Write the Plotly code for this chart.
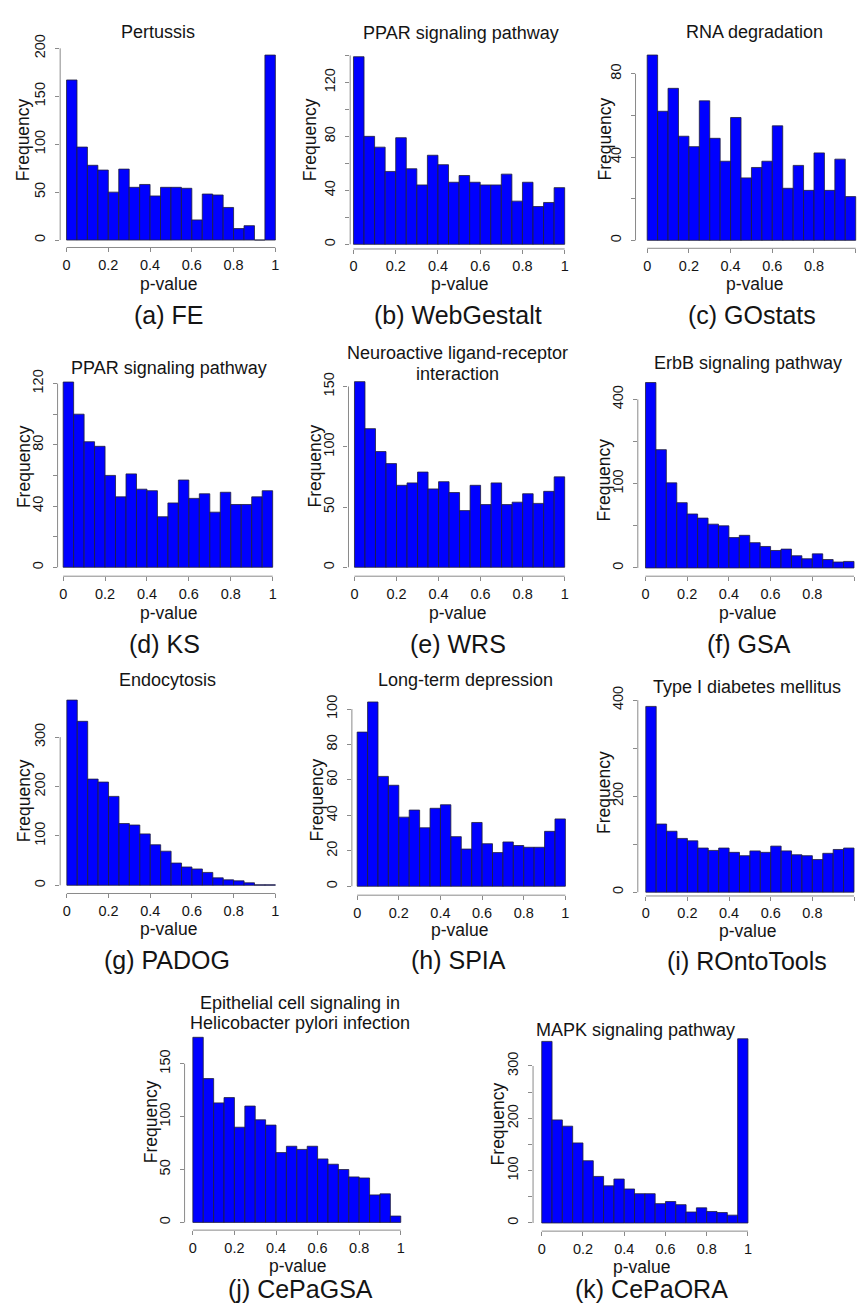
import numpy as np
import plotly.graph_objects as go

# ---------------- data (counts per p-value bin, 20 bins of width 0.05) ----------------
bin_edges = [round(0.05 * i, 2) for i in range(21)]

fe_counts = [167, 97, 78, 73, 50, 74, 55, 58, 46, 55, 55, 54, 21, 48, 47, 34, 12, 15, 0, 193]
webgestalt_counts = [139, 80, 72, 54, 79, 56, 44, 66, 59, 46, 51, 46, 44, 44, 52, 32, 46, 28, 31, 42]
gostats_counts = [89, 62, 73, 50, 45, 67, 49, 38, 59, 30, 35, 38, 55, 25, 36, 24, 42, 24, 39, 21]
ks_counts = [121, 100, 82, 79, 60, 46, 61, 51, 50, 33, 42, 57, 45, 48, 36, 49, 41, 41, 46, 50]
wrs_counts = [154, 115, 96, 86, 68, 70, 79, 65, 71, 62, 47, 68, 52, 70, 52, 54, 61, 53, 63, 75]
gsa_counts = [484, 197, 102, 60, 41, 35, 27, 25, 13, 15, 9, 6.5, 4.3, 5, 2.1, 1.2, 2.8, 1, 0.5, 0.6]
padog_counts = [375, 332, 215, 209, 180, 125, 122, 104, 82, 69, 45, 37, 33, 26, 15, 11, 9, 5, 1, 1]
spia_counts = [87, 104, 62, 57, 39, 43, 33, 44, 46, 28, 21, 36, 24, 19, 25, 23, 22, 22, 31, 38]
rontotools_counts = [387, 142, 127, 112, 107, 92, 87, 92, 83, 76, 86, 83, 96, 86, 78, 76, 68, 81, 89, 92]
cepagsa_counts = [175, 136, 113, 118, 90, 110, 97, 92, 66, 72, 69, 72, 60, 55, 50, 43, 42, 26, 27, 6]
cepaora_counts = [347, 197, 185, 153, 119, 89, 71, 84, 65, 56, 56, 37, 41, 35, 21, 29, 22, 20, 15, 352]

panel_titles = [
    ["Pertussis"], ["PPAR signaling pathway"], ["RNA degradation"],
    ["PPAR signaling pathway"], ["Neuroactive ligand-receptor", "interaction"], ["ErbB signaling pathway"],
    ["Endocytosis"], ["Long-term depression"], ["Type I diabetes mellitus"],
    ["Epithelial cell signaling in", "Helicobacter pylori infection"], ["MAPK signaling pathway"],
]
panel_labels = ["(a) FE", "(b) WebGestalt", "(c) GOstats", "(d) KS", "(e) WRS", "(f) GSA",
                "(g) PADOG", "(h) SPIA", "(i) ROntoTools", "(j) CePaGSA", "(k) CePaORA"]
panel_counts = [fe_counts, webgestalt_counts, gostats_counts, ks_counts, wrs_counts, gsa_counts,
                padog_counts, spia_counts, rontotools_counts, cepagsa_counts, cepaora_counts]

x_tick_vals = [0, 0.2, 0.4, 0.6, 0.8, 1]
x_tick_text = ["0", "0.2", "0.4", "0.6", "0.8", "1"]

# y ticks (values, labels); GSA panel uses a square-root axis
y_ticks = [
    ([0, 50, 100, 150, 200], ["0", "50", "100", "150", "200"]),
    ([0, 20, 40, 60, 80, 100, 120, 140], ["0", "", "40", "", "80", "", "120", ""]),
    ([0, 20, 40, 60, 80], ["0", "", "40", "", "80"]),
    ([0, 20, 40, 60, 80, 100, 120], ["0", "", "40", "", "80", "", "120"]),
    ([0, 50, 100, 150], ["0", "50", "100", "150"]),
    ([0, 25, 100, 225, 400], ["0", "", "100", "", "400"]),
    ([0, 100, 200, 300], ["0", "100", "200", "300"]),
    ([0, 20, 40, 60, 80, 100], ["0", "20", "40", "60", "80", "100"]),
    ([0, 100, 200, 300, 400], ["0", "", "200", "", "400"]),
    ([0, 50, 100, 150], ["0", "50", "100", "150"]),
    ([0, 50, 100, 150, 200, 250, 300], ["0", "", "100", "", "200", "", "300"]),
]
sqrt_axis = [False, False, False, False, False, True, False, False, False, False, False]

# ---------------- layout (pixel positions in the 858 x 1305 page) ----------------
W, H = 858, 1305
geom = [
    dict(x0=65.7, x1=275.0, xy=59.3, yb=231.0, ys=0.9667, yx=238.5),
    dict(x0=353.3, x1=565.0, xy=350.0, yb=235.3, ys=1.361, yx=240.0),
    dict(x0=647.7, x1=856.7, xy=636.0, yb=231.3, ys=2.1, yx=239.3),
    dict(x0=62.3, x1=272.3, xy=56.7, yb=561.0, ys=1.544, yx=570.0),
    dict(x0=354.3, x1=565.0, xy=348.3, yb=561.0, ys=1.2156, yx=570.0),
    dict(x0=646.0, x1=855.0, xy=638.3, yb=561.7, ys=8.5, yx=570.0),
    dict(x0=66.0, x1=275.0, xy=59.3, yb=881.7, ys=0.498, yx=890.0),
    dict(x0=357.0, x1=565.7, xy=351.7, yb=882.7, ys=1.787, yx=891.7),
    dict(x0=646.3, x1=855.0, xy=638.3, yb=888.7, ys=0.4842, yx=892.5),
    dict(x0=192.3, x1=400.7, xy=184.0, yb=1221.7, ys=1.0667, yx=1229.5),
    dict(x0=542.0, x1=748.7, xy=533.3, yb=1222.3, ys=0.5278, yx=1230.5),
]
title_pos = [(157, 21), (461, 22), (755, 21), (168, 360), (458, 345), (749, 355),
             (167, 675), (466, 675), (748, 682), (300, 1000), (636, 1028)]
freq_pos = [(21.5, 130), (310, 130), (605, 129), (23, 459), (315, 459), (604, 473),
            (23, 796), (317, 796), (605, 788), (150, 1120), (498, 1122)]
pval_pos = [(168, 275), (460, 275), (755, 275), (168, 607), (458, 607), (748, 607),
            (168, 926), (460, 927), (748, 928), (297, 1266), (642, 1267)]
label_pos = [(168, 307), (458, 307), (753, 307), (164, 638), (458, 638), (750, 638),
             (166, 957), (459, 957), (748, 958), (300, 1289), (652, 1289)]

FONT = "Liberation Sans, Arial, Helvetica, sans-serif"
TXT = "#141414"
AXC = "#8a8a8a"


def px(x):
    return x / W


def py(y):
    return 1 - y / H


fig = go.Figure()
shapes = []
annotations = []
centers = [(bin_edges[i] + bin_edges[i + 1]) / 2 for i in range(20)]

for i, (counts, g) in enumerate(zip(panel_counts, geom)):
    n = i + 1
    xa = "x" if n == 1 else f"x{n}"
    ya = "y" if n == 1 else f"y{n}"
    xkey = "xaxis" if n == 1 else f"xaxis{n}"
    ykey = "yaxis" if n == 1 else f"yaxis{n}"

    tv, tt = y_ticks[i]
    if sqrt_axis[i]:
        yvals = list(np.sqrt(counts))
        tvp = list(np.sqrt(tv))
    else:
        yvals = list(counts)
        tvp = list(tv)

    fig.add_trace(go.Bar(
        x=centers, y=yvals, width=0.05, xaxis=xa, yaxis=ya,
        marker=dict(color="#0000FF", line=dict(color="#20203a", width=0.8)),
        showlegend=False, hoverinfo="skip",
    ))

    xscale = g["x1"] - g["x0"]
    left_px = g["xy"]
    right_px = min(g["x1"] + (g["x0"] - g["xy"]), W)
    xr = [-(g["x0"] - left_px) / xscale, (right_px - g["x0"]) / xscale]

    vmax = max(max(yvals), tvp[-1])
    top_px = g["yb"] - vmax * g["ys"] - 3
    yr = [-(g["yx"] - g["yb"]) / g["ys"], (g["yb"] - top_px) / g["ys"]]

    fig.layout[xkey] = dict(
        domain=[px(left_px), px(right_px)], range=xr, anchor=ya,
        tickvals=x_tick_vals, ticktext=x_tick_text, ticks="outside", ticklen=4,
        tickcolor=AXC, tickwidth=1, showline=False, showgrid=False, zeroline=False,
        tickfont=dict(family=FONT, size=14.5, color=TXT), ticklabelstandoff=0,
        fixedrange=True,
    )
    fig.layout[ykey] = dict(
        domain=[py(g["yx"]), py(top_px)], range=yr, anchor=xa,
        tickvals=tvp, ticktext=tt, ticks="outside", ticklen=4,
        tickcolor=AXC, tickwidth=1, showline=False, showgrid=False, zeroline=False,
        tickangle=-90, tickfont=dict(family=FONT, size=14.5, color=TXT),
        ticklabelstandoff=4, fixedrange=True,
    )

    shapes.append(dict(type="line", xref=xa, yref=f"{ya} domain", x0=0, x1=1, y0=0, y1=0,
                       line=dict(color=AXC, width=1)))
    shapes.append(dict(type="line", xref=f"{xa} domain", yref=ya, x0=0, x1=0,
                       y0=tvp[0], y1=tvp[-1], line=dict(color=AXC, width=1)))

    tx, ty = title_pos[i]
    for k, line in enumerate(panel_titles[i]):
        annotations.append(dict(text=line, x=px(tx), y=py(ty + 21 * k), xref="paper", yref="paper",
                                showarrow=False, xanchor="center", yanchor="middle",
                                font=dict(family=FONT, size=18, color=TXT)))
    fx, fy = freq_pos[i]
    annotations.append(dict(text="Frequency", x=px(fx), y=py(fy), xref="paper", yref="paper",
                            showarrow=False, textangle=-90, xanchor="center", yanchor="middle",
                            font=dict(family=FONT, size=17.5, color=TXT)))
    vx, vy = pval_pos[i]
    annotations.append(dict(text="p-value", x=px(vx), y=py(vy), xref="paper", yref="paper",
                            showarrow=False, xanchor="center", yanchor="middle",
                            font=dict(family=FONT, size=17.5, color=TXT)))
    lx, ly = label_pos[i]
    annotations.append(dict(text=panel_labels[i], x=px(lx), y=py(ly), xref="paper", yref="paper",
                            showarrow=False, xanchor="center", yanchor="middle",
                            font=dict(family=FONT, size=25, color=TXT)))

fig.update_layout(
    width=W, height=H, margin=dict(l=0, r=0, t=0, b=0),
    paper_bgcolor="white", plot_bgcolor="white",
    shapes=shapes, annotations=annotations, bargap=0, showlegend=False,
)

fig.write_html(
    "out.html",
    config={"displayModeBar": False, "staticPlot": True},
    post_script="document.body.style.margin='0px';document.body.style.overflow='hidden';",
)
